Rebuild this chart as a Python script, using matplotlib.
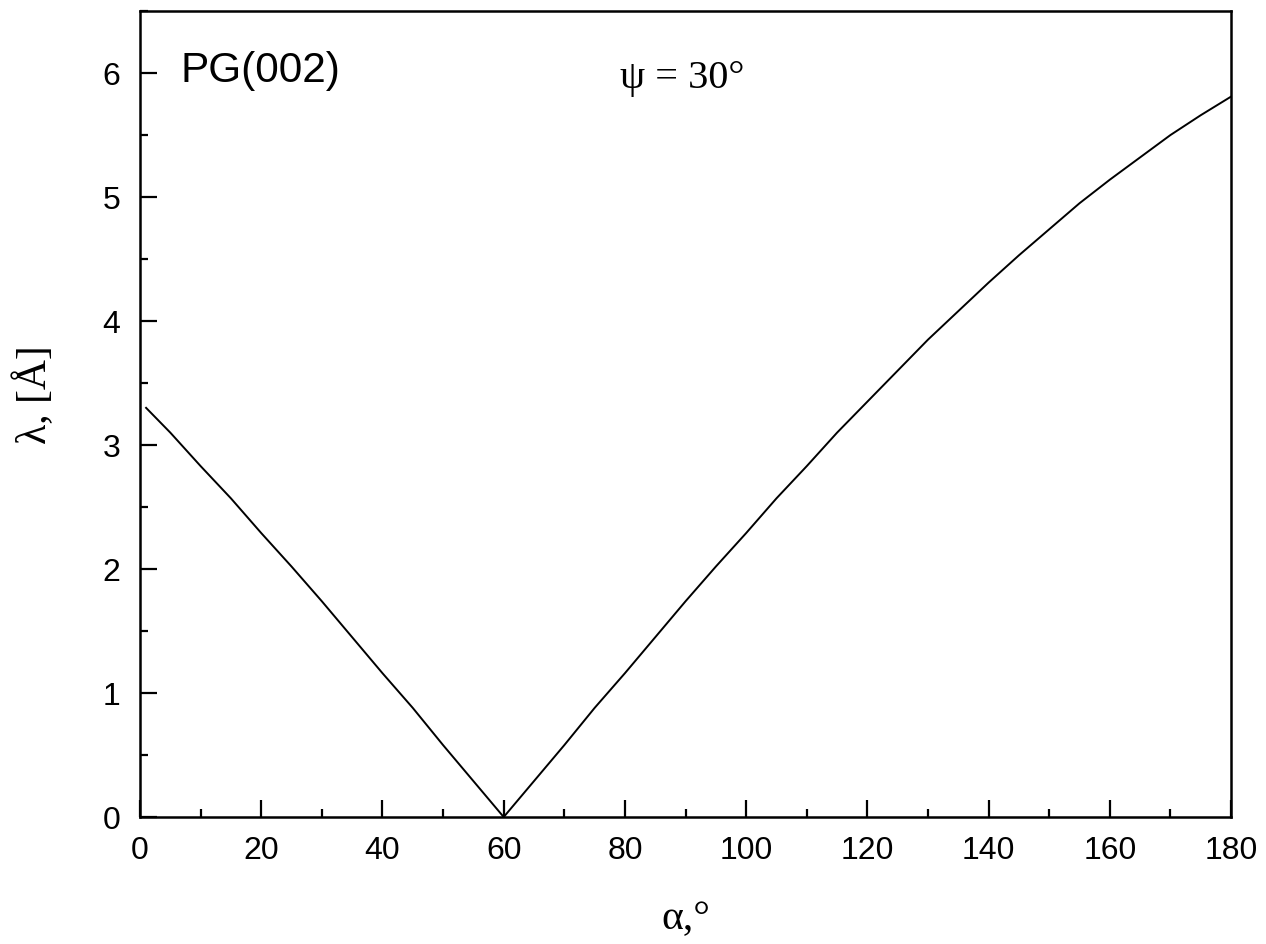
import matplotlib
matplotlib.use("Agg")
import matplotlib.pyplot as plt
from matplotlib.ticker import MultipleLocator

# curve (alpha in degrees, lambda in Angstrom)
alpha = [1, 5, 10, 15, 20, 25, 30, 35, 40, 45, 50, 55, 60,
         65, 70, 75, 80, 85, 90, 95, 100, 105, 110, 115, 120,
         125, 130, 135, 140, 145, 150, 155, 160, 165, 170, 175, 180]
lam = [3.30, 3.10, 2.83, 2.57, 2.29, 2.02, 1.74, 1.45, 1.16, 0.88, 0.58, 0.29, 0.00,
       0.29, 0.58, 0.88, 1.16, 1.45, 1.74, 2.02, 2.29, 2.57, 2.83, 3.10, 3.35,
       3.60, 3.85, 4.08, 4.31, 4.53, 4.74, 4.95, 5.14, 5.32, 5.50, 5.66, 5.81]

SANS = "Liberation Sans"
SERIF = "Liberation Serif"

fig = plt.figure(figsize=(12.66, 9.44), dpi=100)
ax = fig.add_axes([0.1106, 0.1345, 0.8618, 0.8538])

ax.plot(alpha, lam, color="black", lw=1.4)

ax.set_xlim(0, 180)
ax.set_ylim(0, 6.5)
ax.xaxis.set_major_locator(MultipleLocator(20))
ax.xaxis.set_minor_locator(MultipleLocator(10))
ax.yaxis.set_major_locator(MultipleLocator(1))
ax.yaxis.set_minor_locator(MultipleLocator(0.5))
ax.tick_params(which="both", direction="in", width=1.6, top=False, right=False)
ax.tick_params(which="major", length=12, pad=14, labelsize=23)
ax.tick_params(which="minor", length=6)
for lab in ax.get_xticklabels() + ax.get_yticklabels():
    lab.set_fontfamily(SANS)
for sp in ax.spines.values():
    sp.set_linewidth(1.8)

ax.set_xlabel("α,°", fontsize=30, family=SERIF)
ax.set_ylabel("λ, [Å]", fontsize=30, family=SERIF)
ax.xaxis.set_label_coords(0.5, -0.103)
ax.yaxis.set_label_coords(-0.078, 0.524)

ax.text(0.037, 0.912, "PG(002)", transform=ax.transAxes, fontsize=30.5,
        family=SANS, va="baseline", ha="left")
ax.text(0.44, 0.9045, "ψ = 30°", transform=ax.transAxes, fontsize=29,
        family=SERIF, va="baseline", ha="left")

fig.savefig("out.png", dpi=100)
